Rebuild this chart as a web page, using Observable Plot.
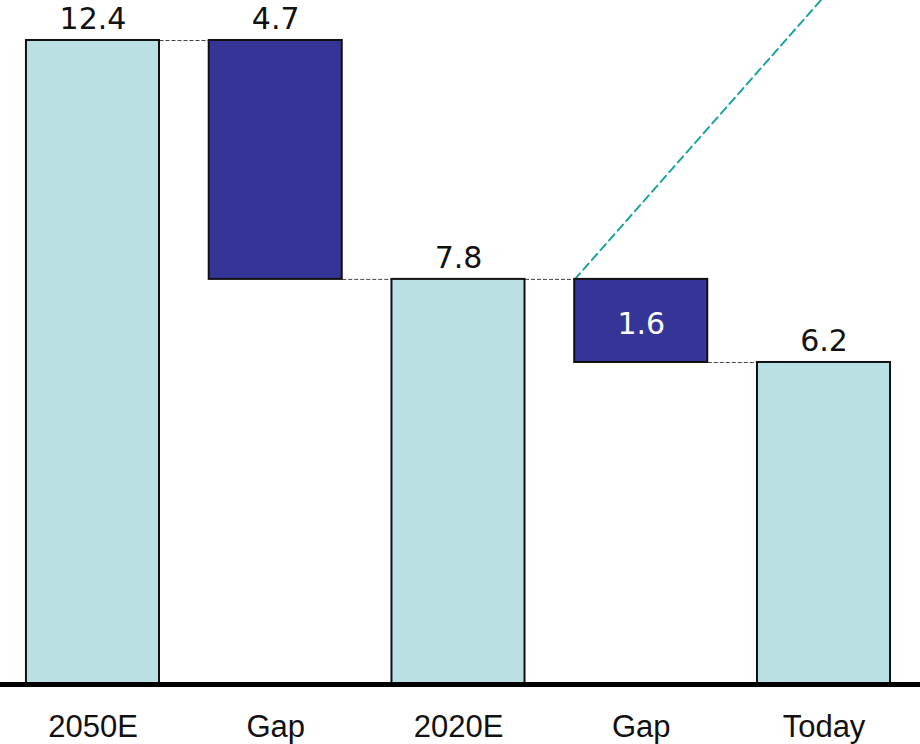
<!DOCTYPE html>
<html>
<head>
<meta charset="utf-8">
<script src="https://cdn.jsdelivr.net/npm/d3@7"></script>
<script src="https://cdn.jsdelivr.net/npm/@observablehq/plot@0.6"></script>
<style>
  html, body { margin: 0; padding: 0; background: #fff; }
  #chart svg { display: block; }
</style>
</head>
<body>
<div id="chart"></div>
<script>
// Data
const categories = ["2050E", "Gap", "2020E", "Gap", "Today"];
const totals = [12.4, null, 7.8, null, 6.2];
const gaps = [null, 4.7, null, 1.6, null];
// Teal dashed trend line (x in category-index units, y in value units)
const trendX = [2.636, 4.5];
const trendY = [7.8, 15.24];

const hw = 0.364; // half bar width in index units

const bars = categories.map((c, i) => {
  if (totals[i] != null) {
    return {i, cat: c, type: "total", y1: 0, y2: totals[i], label: totals[i]};
  }
  return {i, cat: c, type: "gap", y1: totals[i + 1], y2: totals[i - 1], label: gaps[i]};
});

const connectors = [];
for (let k = 0; k < bars.length - 1; k++) {
  const a = bars[k], b = bars[k + 1];
  const level = a.type === "total" ? a.y2 : b.y2;
  connectors.push({x1: a.i + hw, x2: b.i - hw, y: level});
}

const trend = trendX.map((x, k) => ({x, y: trendY[k]}));

const fmt = d3.format(".1f");

const chart = Plot.plot({
  width: 920,
  height: 744,
  marginTop: 0,
  marginBottom: 60,
  marginLeft: 0,
  marginRight: 0,
  x: {domain: [-0.506, 4.528], axis: null},
  y: {domain: [0, 13.17], axis: null},
  style: {background: "#fff"},
  marks: [
    Plot.line(trend, {x: "x", y: "y", stroke: "#17a39f", strokeWidth: 2, strokeDasharray: "8,5", clip: true}),
    Plot.link(connectors, {x1: "x1", x2: "x2", y1: "y", y2: "y", stroke: "#444", strokeWidth: 1, strokeDasharray: "4,2"}),
    Plot.rect(bars, {
      x1: d => d.i - hw,
      x2: d => d.i + hw,
      y1: "y1",
      y2: "y2",
      fill: d => d.type === "total" ? "#bbe0e3" : "#353598",
      stroke: "#111",
      strokeWidth: 2
    }),
    Plot.ruleY([0], {stroke: "#000", strokeWidth: 5}),
    // labels above bars
    Plot.text(bars.filter(d => !(d.type === "gap" && d.i === 3)), {
      x: "i", y: "y2", text: d => fmt(d.label),
      lineAnchor: "bottom", dy: -11,
      fontFamily: "DejaVu Sans", fontSize: 30, fill: "#111",
      style: "letter-spacing: 1px"
    }),
    // label inside the second gap bar
    Plot.text(bars.filter(d => d.type === "gap" && d.i === 3), {
      x: "i", y: d => (d.y1 + d.y2) / 2, text: d => fmt(d.label),
      lineAnchor: "middle", dy: 3,
      fontFamily: "DejaVu Sans", fontSize: 30, fill: "#fff"
    }),
    // category labels
    Plot.text(bars, {
      x: "i", y: 0, text: "cat",
      lineAnchor: "middle", dy: 43,
      fontFamily: "Liberation Sans, Arial, sans-serif", fontSize: 31, fill: "#111"
    })
  ]
});

document.getElementById("chart").appendChild(chart);
</script>
</body>
</html>
